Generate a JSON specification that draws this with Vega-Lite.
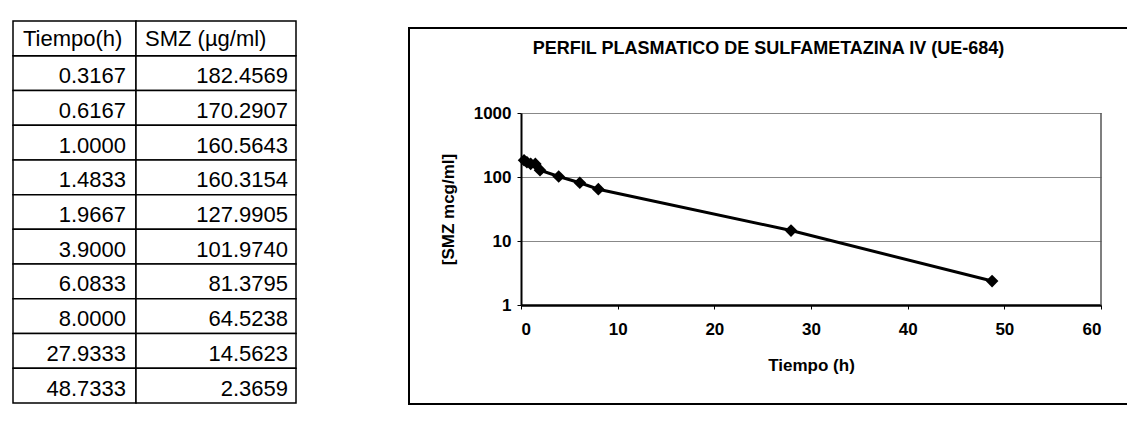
{
  "$schema": "https://vega.github.io/schema/vega-lite/v6.json",
  "padding": {"left": 12, "top": 20, "right": 0, "bottom": 0},
  "autosize": {"type": "pad"},
  "background": "white",
  "config": {
    "view": {"stroke": null},
    "font": "Liberation Sans"
  },
  "datasets": {
    "pk": [
      {"t": 0.3167, "c": 182.4569},
      {"t": 0.6167, "c": 170.2907},
      {"t": 1.0, "c": 160.5643},
      {"t": 1.4833, "c": 160.3154},
      {"t": 1.9667, "c": 127.9905},
      {"t": 3.9, "c": 101.974},
      {"t": 6.0833, "c": 81.3795},
      {"t": 8.0, "c": 64.5238},
      {"t": 27.9333, "c": 14.5623},
      {"t": 48.7333, "c": 2.3659}
    ]
  },
  "bounds": "flush",
  "spacing": 0,
  "hconcat": [
    {
      "width": 123,
      "height": 375,
      "layer": [
        {
          "data": {"name": "pk"},
          "mark": {"type": "rect", "fill": "white", "stroke": "black", "strokeWidth": 1.5},
          "encoding": {
            "y": {"field": "t", "type": "ordinal", "axis": null,
              "scale": {"domain": ["hdr", 0.3167, 0.6167, 1.0, 1.4833, 1.9667, 3.9, 6.0833, 8.0, 27.9333, 48.7333], "range": [-7, 375], "paddingInner": 0, "paddingOuter": 0}},
            "x": {"datum": "col", "type": "nominal", "axis": null, "scale": {"type": "band", "range": [0, 123], "paddingInner": 0, "paddingOuter": 0}}
          }
        },
        {
          "data": {"values": [{"h": "Tiempo(h)"}]},
          "mark": {"type": "rect", "fill": "white", "stroke": "black", "strokeWidth": 1.5},
          "encoding": {
            "y": {"datum": "hdr", "type": "ordinal"},
            "x": {"datum": "col", "type": "nominal"}
          }
        },
        {
          "data": {"name": "pk"},
          "mark": {"type": "text", "align": "right", "dx": -10, "dy": 3, "fontSize": 22, "color": "black"},
          "encoding": {
            "y": {"field": "t", "type": "ordinal"},
            "x": {"datum": "col", "type": "nominal", "bandPosition": 1},
            "text": {"field": "t", "format": ".4f"}
          }
        },
        {
          "data": {"values": [{"h": "Tiempo(h)"}]},
          "mark": {"type": "text", "align": "left", "dx": 10, "dy": 1, "fontSize": 22, "color": "black"},
          "encoding": {
            "y": {"datum": "hdr", "type": "ordinal"},
            "x": {"datum": "col", "type": "nominal", "bandPosition": 0},
            "text": {"field": "h"}
          }
        }
      ]
    },
    {
      "width": 273,
      "height": 375,
      "layer": [
        {
          "data": {"name": "pk"},
          "mark": {"type": "rect", "fill": "white", "stroke": "black", "strokeWidth": 1.5},
          "encoding": {
            "y": {"field": "t", "type": "ordinal", "axis": null,
              "scale": {"domain": ["hdr", 0.3167, 0.6167, 1.0, 1.4833, 1.9667, 3.9, 6.0833, 8.0, 27.9333, 48.7333], "range": [-7, 375], "paddingInner": 0, "paddingOuter": 0}},
            "x": {"datum": "col", "type": "nominal", "axis": null, "scale": {"type": "band", "range": [0, 160], "paddingInner": 0, "paddingOuter": 0}}
          }
        },
        {
          "data": {"values": [{"h": "SMZ (µg/ml)"}]},
          "mark": {"type": "rect", "fill": "white", "stroke": "black", "strokeWidth": 1.5},
          "encoding": {
            "y": {"datum": "hdr", "type": "ordinal"},
            "x": {"datum": "col", "type": "nominal"}
          }
        },
        {
          "data": {"name": "pk"},
          "mark": {"type": "text", "align": "right", "dx": -8, "dy": 3, "fontSize": 22, "color": "black"},
          "encoding": {
            "y": {"field": "t", "type": "ordinal"},
            "x": {"datum": "col", "type": "nominal", "bandPosition": 1},
            "text": {"field": "c", "format": ".4f"}
          }
        },
        {
          "data": {"values": [{"h": "SMZ (µg/ml)"}]},
          "mark": {"type": "text", "align": "left", "dx": 9, "dy": 1, "fontSize": 22, "color": "black"},
          "encoding": {
            "y": {"datum": "hdr", "type": "ordinal"},
            "x": {"datum": "col", "type": "nominal", "bandPosition": 0},
            "text": {"field": "h"}
          }
        }
      ]
    },
    {
      "width": 719,
      "height": 376,
      "view": {"stroke": "black", "strokeWidth": 2, "fill": "white"},
      "title": {
        "text": "PERFIL PLASMATICO DE SULFAMETAZINA IV (UE-684)",
        "fontSize": 18,
        "fontWeight": "bold",
        "color": "black",
        "anchor": "middle",
        "frame": "group",
        "baseline": "middle",
        "offset": -39
      },
      "encoding": {
        "x": {
          "field": "t", "type": "quantitative",
          "scale": {"domain": [0, 60], "range": [112, 692], "nice": false, "zero": false},
          "axis": {
            "values": [0, 10, 20, 30, 40, 50, 60], "format": "d", "offset": -99,
            "grid": false, "tickSize": 4, "tickColor": "black", "domainColor": "black", "domainWidth": 2.5,
            "labelFontSize": 17, "labelFontWeight": "bold", "labelColor": "black", "labelPadding": 12,
            "title": "Tiempo (h)", "titleFontSize": 17, "titleFontWeight": "bold", "titleColor": "black", "titlePadding": 20
          }
        },
        "y": {
          "field": "c", "type": "quantitative",
          "scale": {"type": "log", "domain": [1, 1000], "range": [277, 85], "nice": false},
          "axis": {
            "values": [1, 10, 100, 1000], "format": "d", "offset": -112,
            "grid": true, "gridColor": "#888", "gridWidth": 1,
            "tickSize": 4, "tickColor": "black", "domainColor": "black", "domainWidth": 2,
            "labelFontSize": 17, "labelFontWeight": "bold", "labelColor": "black", "labelPadding": 6,
            "title": "[SMZ mcg/ml]", "titleFontSize": 17, "titleFontWeight": "bold", "titleColor": "black", "titlePadding": 16
          }
        }
      },
      "layer": [
        {
          "data": {"values": [{"edge": 60, "lo": 1, "hi": 1000}]},
          "mark": {"type": "rule", "color": "#555", "strokeWidth": 1.5},
          "encoding": {
            "x": {"field": "edge", "type": "quantitative"},
            "y": {"field": "lo", "type": "quantitative"},
            "y2": {"field": "hi"}
          }
        },
        {"data": {"name": "pk"}, "mark": {"type": "line", "color": "black", "strokeWidth": 3}},
        {"data": {"name": "pk"}, "mark": {"type": "point", "shape": "diamond", "filled": true, "color": "black", "size": 160, "opacity": 1}}
      ]
    }
  ]
}
